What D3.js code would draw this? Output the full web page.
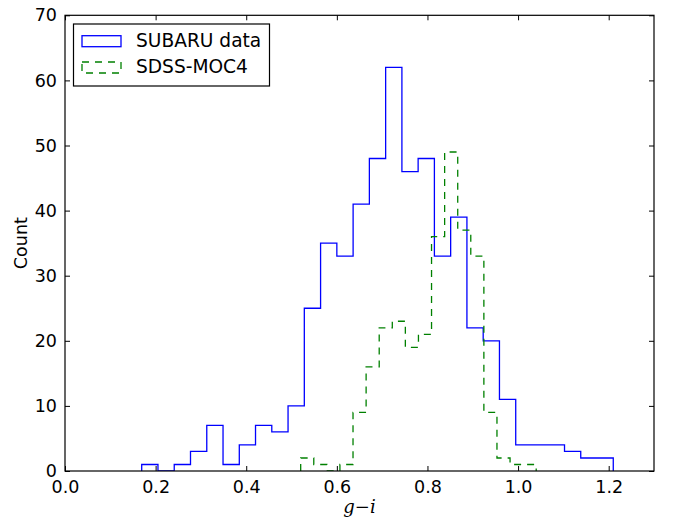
<!DOCTYPE html>
<html>
<head>
<meta charset="utf-8">
<script src="https://cdn.jsdelivr.net/npm/d3@7"></script>
<style>
  html, body { margin: 0; padding: 0; background: #fff; }
  svg text { font-family: "DejaVu Sans", sans-serif; fill: #000; }
</style>
</head>
<body>
<svg id="chart" width="673" height="519"></svg>
<script>
// ---- data ----
const subaruEdges = [0.1693, 0.2052, 0.2411, 0.2770, 0.3129, 0.3488, 0.3847, 0.4205, 0.4564, 0.4923,
  0.5282, 0.5641, 0.6000, 0.6359, 0.6718, 0.7077, 0.7436, 0.7794, 0.8153, 0.8512,
  0.8871, 0.9230, 0.9589, 0.9948, 1.0307, 1.0666, 1.1025, 1.1383, 1.1742, 1.2101];
const subaruCounts = [1, 0, 1, 3, 7, 1, 4, 7, 6, 10, 25, 35, 33, 41, 48, 62, 46, 48, 33, 39,
  22, 20, 11, 4, 4, 4, 3, 2, 2];
const sdssEdges = [0.5202, 0.5491, 0.5780, 0.6068, 0.6357, 0.6646, 0.6935, 0.7224, 0.7512, 0.7801,
  0.8090, 0.8379, 0.8668, 0.8956, 0.9245, 0.9534, 0.9823, 1.0112, 1.0400];
const sdssCounts = [2, 1, 0, 1, 9, 16, 22, 23, 19, 21, 36, 49, 37, 33, 9, 2, 1, 1];
const xTicks = [0.0, 0.2, 0.4, 0.6, 0.8, 1.0, 1.2];
const yTicks = [0, 10, 20, 30, 40, 50, 60, 70];
const seriesNames = ["SUBARU data", "SDSS-MOC4"];

// ---- layout ----
const L = 65, R = 654, T = 15.3, B = 471;
const svg = d3.select("#chart");
const x = d3.scaleLinear().domain([0, 1.3]).range([L, R]);
const y = d3.scaleLinear().domain([0, 70]).range([B, T]);

svg.append("defs").append("clipPath").attr("id", "clip")
  .append("rect").attr("x", L).attr("y", T).attr("width", R - L).attr("height", B - T);

function stepPoints(edges, counts) {
  const pts = [[edges[0], 0]];
  counts.forEach((c, i) => { pts.push([edges[i], c]); pts.push([edges[i + 1], c]); });
  pts.push([edges[edges.length - 1], 0]);
  return pts;
}
const line = d3.line().x(d => x(d[0])).y(d => y(d[1]));

const g = svg.append("g").attr("clip-path", "url(#clip)");
g.append("path").attr("d", line(stepPoints(subaruEdges, subaruCounts)))
  .attr("fill", "none").attr("stroke", "#0000ff").attr("stroke-width", 1.3);
g.append("path").attr("d", line(stepPoints(sdssEdges, sdssCounts)))
  .attr("fill", "none").attr("stroke", "#008000").attr("stroke-width", 1.3)
  .attr("stroke-dasharray", "7,6");

// ---- axes (ticks inside, on all sides) ----
const tickLen = 5;
const xAxisB = d3.axisBottom(x).tickValues(xTicks).tickSizeInner(-tickLen).tickSizeOuter(0)
  .tickPadding(10).tickFormat(d3.format(".1f"));
const xAxisT = d3.axisTop(x).tickValues(xTicks).tickSizeInner(-tickLen).tickSizeOuter(0).tickFormat("");
const yAxisL = d3.axisLeft(y).tickValues(yTicks).tickSizeInner(-tickLen).tickSizeOuter(0)
  .tickPadding(8).tickFormat(d3.format("d"));
const yAxisR = d3.axisRight(y).tickValues(yTicks).tickSizeInner(-tickLen).tickSizeOuter(0).tickFormat("");

function styleAxis(sel) {
  sel.select(".domain").remove();
  sel.selectAll(".tick line").attr("stroke", "#000").attr("stroke-width", 1);
  sel.selectAll(".tick text").style("font-family", "DejaVu Sans, sans-serif")
    .style("font-size", "17.5px").attr("fill", "#000");
}
svg.append("g").attr("transform", `translate(0,${B})`).call(xAxisB).call(styleAxis);
svg.append("g").attr("transform", `translate(0,${T})`).call(xAxisT).call(styleAxis);
svg.append("g").attr("transform", `translate(${L},0)`).call(yAxisL).call(styleAxis);
svg.append("g").attr("transform", `translate(${R},0)`).call(yAxisR).call(styleAxis);

svg.append("rect").attr("x", L).attr("y", T).attr("width", R - L).attr("height", B - T)
  .attr("fill", "none").attr("stroke", "#000").attr("stroke-width", 1.2);

// ---- axis labels ----
svg.append("text").attr("transform", `translate(27,${(T + B) / 2}) rotate(-90)`)
  .attr("text-anchor", "middle").style("font-size", "17.5px").text("Count");

const xl = svg.append("text").attr("x", (L + R) / 2).attr("y", 513).attr("text-anchor", "middle")
  .style("font-family", "DejaVu Serif, serif").style("font-size", "18px");
xl.append("tspan").style("font-style", "italic").style("font-family", "DejaVu Serif, serif").text("g");
xl.append("tspan").style("font-family", "DejaVu Serif, serif").text("\u2212");
xl.append("tspan").style("font-style", "italic").style("font-family", "DejaVu Serif, serif").text("i");

// ---- legend ----
const lg = svg.append("g");
lg.append("rect").attr("x", 73.5).attr("y", 24).attr("width", 196).attr("height", 62)
  .attr("fill", "#fff").attr("stroke", "#000").attr("stroke-width", 1.2);
const legendItems = [
  { name: seriesNames[0], color: "#0000ff", dash: null, yy: 35.7 },
  { name: seriesNames[1], color: "#008000", dash: "7,6", yy: 62 }
];
legendItems.forEach(it => {
  lg.append("rect").attr("x", 82).attr("y", it.yy).attr("width", 39).attr("height", 11)
    .attr("fill", "none").attr("stroke", it.color).attr("stroke-width", 1.3)
    .attr("stroke-dasharray", it.dash);
  lg.append("text").attr("x", 136).attr("y", it.yy + 11).style("font-size", "18.6px").text(it.name);
});
</script>
</body>
</html>
